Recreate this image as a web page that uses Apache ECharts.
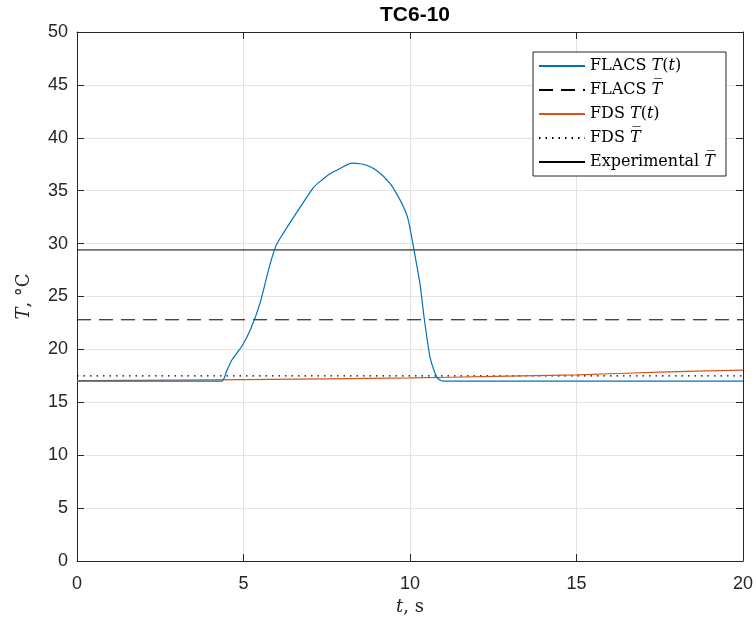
<!DOCTYPE html>
<html>
<head>
<meta charset="utf-8">
<script src="https://cdn.jsdelivr.net/npm/echarts@6/dist/echarts.min.js"></script>
<style>html,body{margin:0;padding:0;background:#fff}#c{width:756px;height:623px}</style>
</head>
<body>
<div id="c"></div>
<script>
// ---- data ----
var flacsTime = [0, 4.35, 4.5, 4.65, 4.95, 5.2, 5.5, 5.75, 5.95, 6.1, 6.6, 7.1, 7.35, 7.6, 7.9, 8.25, 8.5, 8.7, 9.0, 9.4, 9.6, 9.8, 9.95, 10.12, 10.3, 10.42, 10.6, 10.8, 10.9, 11.0, 20];
var flacsTemp = [17.0, 17.0, 18.0, 19.0, 20.3, 21.8, 24.4, 27.5, 29.6, 30.5, 32.95, 35.3, 36.0, 36.6, 37.1, 37.6, 37.55, 37.4, 36.9, 35.7, 34.7, 33.5, 32.2, 29.4, 26.2, 23.1, 19.3, 17.4, 17.1, 17.0, 17.0];
var fdsTime = [0, 5, 10, 12.5, 15, 17.5, 20];
var fdsTemp = [17.05, 17.15, 17.3, 17.45, 17.6, 17.85, 18.05];
var flacsMean = 22.8;
var fdsMean = 17.5;
var expMean = 29.4;
var xRange = [0, 20];

function pairs(xs, ys) { return xs.map(function (x, i) { return [x, ys[i]]; }); }
function hline(v) { return [[xRange[0], v], [xRange[1], v]]; }

var legendLabels = {
  'FLACS T(t)': '{s|FLACS }{i|T}{s|(}{i|t}{s|)}',
  'FLACS Tbar': '{s|FLACS }{i|T\u0305}',
  'FDS T(t)': '{s|FDS }{i|T}{s|(}{i|t}{s|)}',
  'FDS Tbar': '{s|FDS }{i|T\u0305}',
  'Experimental Tbar': '{s|Experimental }{i|T\u0305}'
};

var axisColor = '#262626';
var serif = 'DejaVu Serif';
var sans = 'Liberation Sans';

var chart = echarts.init(document.getElementById('c'), null, { renderer: 'canvas' });
chart.setOption({
  animation: false,
  backgroundColor: '#fff',
  title: {
    text: 'TC6-10', left: 410, textAlign: 'center', top: 0,
    textStyle: { fontFamily: sans, fontWeight: 'bold', fontSize: 21, color: '#000' }
  },
  grid: { left: 77, top: 32, right: 13, bottom: 62, containLabel: false },
  legend: {
    orient: 'vertical', left: 533, top: 52,
    padding: [6, 11, 6, 5], itemGap: 8, itemWidth: 46, itemHeight: 16,
    backgroundColor: '#fff', borderColor: axisColor, borderWidth: 1, borderRadius: 0,
    data: Object.keys(legendLabels),
    itemStyle: { opacity: 0, borderWidth: 0 },
    formatter: function (n) { return legendLabels[n]; },
    textStyle: {
      color: '#000',
      rich: {
        s: { fontFamily: serif, fontSize: 16, color: '#000' },
        i: { fontFamily: serif, fontSize: 16, fontStyle: 'italic', color: '#000' }
      }
    }
  },
  xAxis: [{
    type: 'value', min: 0, max: 20, interval: 5,
    name: '{i|t}{s|, s}', nameLocation: 'middle', nameGap: 37,
    nameTextStyle: { rich: {
      s: { fontFamily: serif, fontSize: 18, color: '#262626' },
      i: { fontFamily: serif, fontSize: 18, fontStyle: 'italic', color: '#262626' } } },
    axisLine: { lineStyle: { color: axisColor, width: 1 } },
    axisTick: { inside: true, length: 7, lineStyle: { color: axisColor } },
    axisLabel: { fontFamily: sans, fontSize: 18, color: '#262626', margin: 14 },
    splitLine: { show: true, lineStyle: { color: '#e3e3e3', width: 1 } }
  }, {
    type: 'value', min: 0, max: 20, interval: 5, position: 'top',
    axisLine: { onZero: false, lineStyle: { color: axisColor, width: 1 } },
    axisTick: { inside: true, length: 7, lineStyle: { color: axisColor } },
    axisLabel: { show: false }, splitLine: { show: false }
  }],
  yAxis: [{
    type: 'value', min: 0, max: 50, interval: 5,
    name: '{i|T}{s|, °C}', nameLocation: 'middle', nameGap: 44,
    nameTextStyle: { rich: {
      s: { fontFamily: serif, fontSize: 18, color: '#262626' },
      i: { fontFamily: serif, fontSize: 18, fontStyle: 'italic', color: '#262626' } } },
    axisLine: { show: true, lineStyle: { color: axisColor, width: 1 } },
    axisTick: { show: true, inside: true, length: 7, lineStyle: { color: axisColor } },
    axisLabel: { fontFamily: sans, fontSize: 18, color: '#262626', margin: 9 },
    splitLine: { show: true, lineStyle: { color: '#e3e3e3', width: 1 } }
  }, {
    type: 'value', min: 0, max: 50, interval: 5, position: 'right',
    axisLine: { show: true, onZero: false, lineStyle: { color: axisColor, width: 1 } },
    axisTick: { show: true, inside: true, length: 7, lineStyle: { color: axisColor } },
    axisLabel: { show: false }, splitLine: { show: false }
  }],
  series: [
    { name: 'FLACS T(t)', type: 'line', data: pairs(flacsTime, flacsTemp), symbol: 'none',
      smooth: 0.2,
      lineStyle: { color: '#0072BD', width: 1.2 }, itemStyle: { color: '#0072BD' }, z: 5 },
    { name: 'FLACS Tbar', type: 'line', data: hline(flacsMean), symbol: 'none',
      lineStyle: { color: '#000', width: 1, type: [14, 8] }, itemStyle: { color: '#000' } },
    { name: 'FDS T(t)', type: 'line', data: pairs(fdsTime, fdsTemp), symbol: 'none', smooth: 0.3,
      lineStyle: { color: '#D95319', width: 1.2 }, itemStyle: { color: '#D95319' }, z: 4 },
    { name: 'FDS Tbar', type: 'line', data: hline(fdsMean), symbol: 'none',
      lineStyle: { color: '#000', width: 1.2, type: [1.5, 5] }, itemStyle: { color: '#000' } },
    { name: 'Experimental Tbar', type: 'line', data: hline(expMean), symbol: 'none',
      lineStyle: { color: '#000', width: 1 }, itemStyle: { color: '#000' } }
  ]
});
</script>
</body>
</html>
